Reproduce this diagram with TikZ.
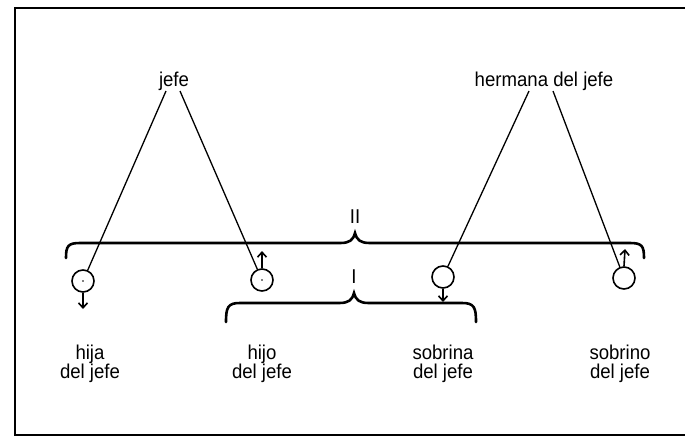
\documentclass[tikz,border=0pt]{standalone}
\usepackage{fontspec}
\setmainfont{Liberation Sans}[FakeStretch=0.93]
\usetikzlibrary{arrows.meta}
\begin{document}
\begin{tikzpicture}[x=1pt,y=-1pt,
  lbl/.style={font=\fontsize{20}{19}\selectfont, inner sep=0pt, align=center},
  gen/.style={draw, circle, minimum size=22pt, inner sep=0pt, line width=1.6pt},
  link/.style={line width=1.3pt},
  sexarrow/.style={line width=1.6pt, -{Straight Barb[length=5pt,width=9pt,line width=1.6pt]}},
  brace/.style={line width=2.6pt, line cap=round},
  frame/.style={line width=2.6pt}]
\useasboundingbox (0,0) rectangle (685,437);
% frame (open on the right)
\draw[frame] (685,8) -- (15,8) -- (15,435) -- (685,435);
% top labels
\node[lbl, anchor=base] (jefe) at (174,86) {jefe};
\node[lbl, anchor=base] (herm) at (544,86) {hermana del jefe};
% persons
\node[gen] (c1) at (83,281) {};
\node[gen] (c2) at (262,280) {};
\node[gen] (c3) at (443,277) {};
\node[gen] (c4) at (624,278) {};
\fill (c1.center) circle (0.8pt);
\fill (c2.center) circle (0.8pt);
% connectors from parents
\coordinate (j1) at (166,91);
\coordinate (j2) at (180,91);
\coordinate (h1) at (529,91);
\coordinate (h2) at (553,91);
\draw[link] (j1) -- (c1);
\draw[link] (j2) -- (c2);
\draw[link] (h1) -- (c3);
\draw[link] (h2) -- (c4);
% sex arrows
\coordinate (a1) at (83,309);
\coordinate (a2) at (262,251);
\coordinate (a3) at (443,302);
\coordinate (a4) at (625,249);
\draw[sexarrow] (c1.south) -- (a1);
\draw[sexarrow] (c2.north) -- (a2);
\draw[sexarrow] (c3.south) -- (a3);
\draw[sexarrow] (c4.north) -- (a4);
% brace II
\draw[brace] (66,258) .. controls (66,246) and (68,243) .. (80,243)
  -- (340,243) .. controls (350,243) and (353,240) .. (355,233)
  .. controls (357,240) and (360,243) .. (370,243)
  -- (630,243) .. controls (642,243) and (644,246) .. (644,258);
\node[lbl, anchor=base] (II) at (355,223) {II};
% brace I
\draw[brace] (226,322) .. controls (226,307) and (228,303) .. (240,303)
  -- (339,303) .. controls (349,303) and (352,300) .. (354,293)
  .. controls (356,300) and (359,303) .. (369,303)
  -- (462,303) .. controls (474,303) and (476,307) .. (476,322);
\node[lbl, anchor=base] (I) at (354,283) {I};
% bottom labels (base = baseline of the last line)
\node[lbl, anchor=base] (l1) at (90,378) {hija\\del jefe};
\node[lbl, anchor=base] (l2) at (262,378) {hijo\\del jefe};
\node[lbl, anchor=base] (l3) at (443,378) {sobrina\\del jefe};
\node[lbl, anchor=base] (l4) at (620,378) {sobrino\\del jefe};
\end{tikzpicture}
\end{document}
